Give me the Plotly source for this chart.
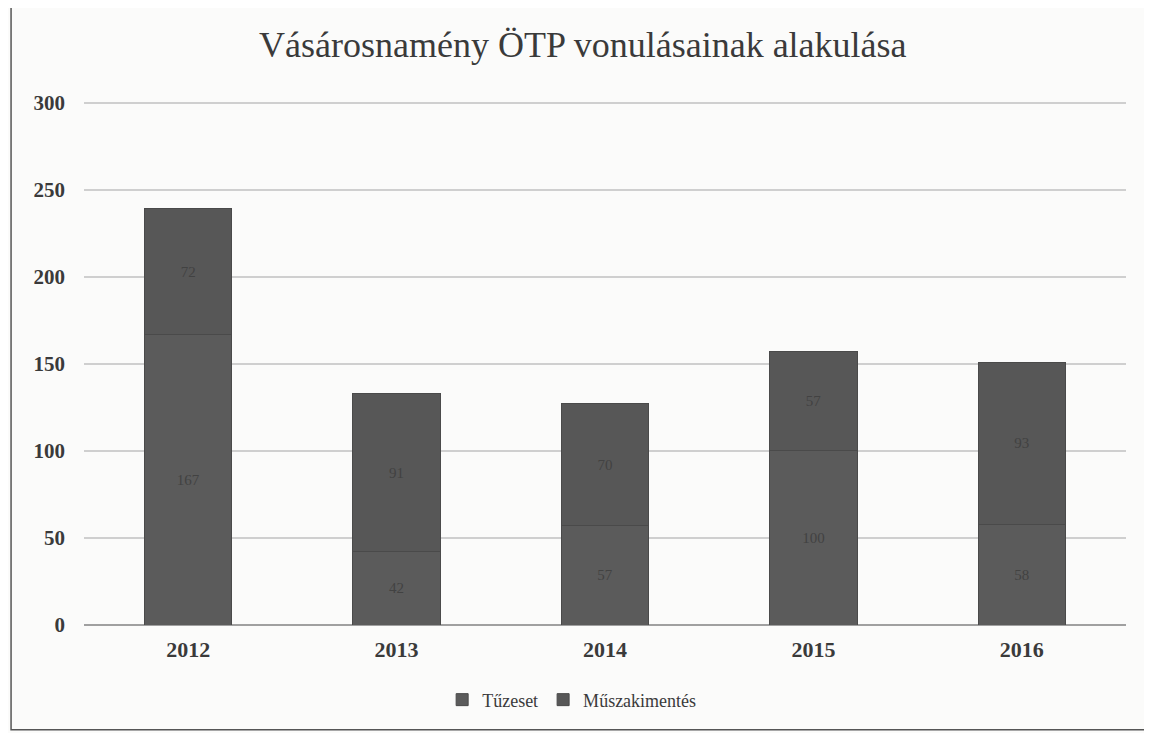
import plotly.graph_objects as go

years = ["2012", "2013", "2014", "2015", "2016"]
tuzeset = [167, 42, 57, 100, 58]
muszaki = [72, 91, 70, 57, 93]
y_ticks = [0, 50, 100, 150, 200, 250, 300]

fig = go.Figure()
fig.add_trace(go.Bar(
    x=years, y=tuzeset, name="Tűzeset",
    marker=dict(color="#5b5b5b", line=dict(color="#4a4a4a", width=1)),
    text=tuzeset, textposition="inside", insidetextanchor="middle",
    textfont=dict(family="Liberation Serif", size=15, color="#424242"),
))
fig.add_trace(go.Bar(
    x=years, y=muszaki, name="Műszakimentés",
    marker=dict(color="#575757", line=dict(color="#4a4a4a", width=1)),
    text=muszaki, textposition="inside", insidetextanchor="middle",
    textfont=dict(family="Liberation Serif", size=15, color="#424242"),
))

fig.update_layout(
    barmode="stack",
    bargap=0.58,
    width=1152, height=733,
    margin=dict(l=76, r=34, t=93, b=116, autoexpand=False),
    paper_bgcolor="#fbfbfa",
    plot_bgcolor="#fbfbfa",
    font=dict(family="Liberation Serif", size=18, color="#3a3a3a"),
    title=dict(
        text="Vásárosnamény ÖTP vonulásainak alakulása",
        x=0.499, xanchor="center", y=0.95, yanchor="middle",
        font=dict(family="Liberation Serif", size=36, color="#3a3a3a"),
    ),
    xaxis=dict(
        showgrid=False, showline=False, ticks="",
        tickfont=dict(family="Liberation Serif", size=22, color="#3a3a3a", weight="bold"),
        ticklabelstandoff=9,
    ),
    yaxis=dict(
        range=[0, 301], tickvals=y_ticks,
        showgrid=True, gridcolor="#cfcfcf", gridwidth=1.5,
        zeroline=True, zerolinecolor="#a0a0a0", zerolinewidth=1.5,
        tickfont=dict(family="Liberation Serif", size=21, color="#3a3a3a", weight="bold"),
        ticklabelstandoff=18,
    ),
    legend=dict(
        orientation="h", x=0.468, xanchor="center", y=-0.143, yanchor="middle",
        font=dict(family="Liberation Serif", size=18, color="#3a3a3a"),
        itemwidth=30, traceorder="normal",
    ),
    shapes=[dict(
        type="rect", xref="paper", yref="paper",
        x0=-0.07, x1=1.028, y0=-0.2, y1=1.19,
        line=dict(color="#555555", width=1.5), fillcolor="rgba(0,0,0,0)",
        layer="below",
    )],
)

fig.write_html("out.html")
